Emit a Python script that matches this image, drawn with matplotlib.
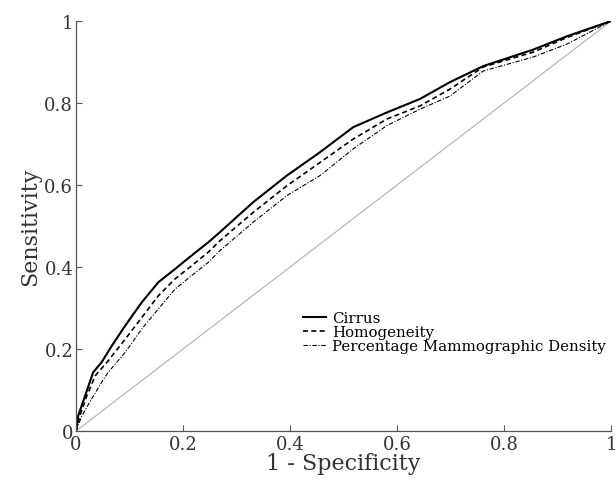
import matplotlib
matplotlib.use("Agg")
import matplotlib.pyplot as plt

# Cirrus (solid)
cirrus_x = [0.0, 0.004, 0.017, 0.032, 0.048, 0.067, 0.092, 0.123, 0.154, 0.185, 0.216,
            0.247, 0.269, 0.331, 0.394, 0.456, 0.518, 0.581, 0.643, 0.699, 0.761,
            0.854, 0.918, 1.0]
cirrus_y = [0.0, 0.037, 0.086, 0.143, 0.168, 0.208, 0.257, 0.314, 0.363, 0.395, 0.428,
            0.46, 0.485, 0.558, 0.623, 0.68, 0.741, 0.777, 0.81, 0.851, 0.89,
            0.93, 0.963, 1.0]

# Homogeneity (dashed)
homog_x = [0.0, 0.008, 0.02, 0.036, 0.06, 0.092, 0.123, 0.154, 0.185, 0.216, 0.247,
           0.269, 0.331, 0.394, 0.456, 0.518, 0.581, 0.643, 0.699, 0.761, 0.854,
           0.918, 1.0]
homog_y = [0.0, 0.04, 0.085, 0.135, 0.171, 0.224, 0.277, 0.33, 0.371, 0.403, 0.436,
           0.464, 0.533, 0.598, 0.655, 0.712, 0.761, 0.793, 0.834, 0.888, 0.924,
           0.96, 1.0]

# Percentage Mammographic Density (dash-dot)
pmd_x = [0.0, 0.011, 0.029, 0.048, 0.06, 0.092, 0.123, 0.154, 0.185, 0.216, 0.247,
         0.269, 0.331, 0.394, 0.456, 0.518, 0.581, 0.643, 0.699, 0.761, 0.854,
         0.918, 1.0]
pmd_y = [0.0, 0.037, 0.078, 0.119, 0.143, 0.192, 0.249, 0.298, 0.346, 0.379, 0.411,
         0.44, 0.509, 0.574, 0.623, 0.688, 0.745, 0.785, 0.817, 0.878, 0.912,
         0.944, 1.0]

labels = ["Cirrus", "Homogeneity", "Percentage Mammographic Density"]
ticks = [0, 0.2, 0.4, 0.6, 0.8, 1]
tick_labels = ["0", "0.2", "0.4", "0.6", "0.8", "1"]

plt.rcParams['font.family'] = ['DejaVu Serif']

fig = plt.figure(figsize=(6.16, 4.85), dpi=100)
ax = fig.add_axes([0.1234, 0.1093, 0.8686, 0.8453])

ax.plot([0, 1], [0, 1], color="#b0b0b0", lw=0.8)
ax.plot(cirrus_x, cirrus_y, color="black", lw=1.5, ls="-", label=labels[0])
ax.plot(homog_x, homog_y, color="black", lw=1.2, ls=(0, (3, 2)), label=labels[1])
ax.plot(pmd_x, pmd_y, color="black", lw=0.8, ls=(0, (4, 1.5, 1, 1.5)), label=labels[2])

ax.set_xlim(0, 1)
ax.set_ylim(0, 1)
ax.set_xticks(ticks)
ax.set_xticklabels(tick_labels)
ax.set_yticks(ticks)
ax.set_yticklabels(tick_labels)
ax.tick_params(direction="in", length=4, width=0.8, colors="#555555",
               labelcolor="#333333", labelsize=13)
ax.tick_params(axis="x", pad=3)
ax.tick_params(axis="y", pad=2)
for s in ["top", "right"]:
    ax.spines[s].set_visible(False)
for s in ["left", "bottom"]:
    ax.spines[s].set_color("#555555")
    ax.spines[s].set_linewidth(0.9)

ax.set_xlabel("1 - Specificity", fontsize=16, color="#333333", labelpad=-1)
ax.set_ylabel("Sensitivity", fontsize=16, color="#333333", labelpad=2)

leg = ax.legend(loc="upper left", bbox_to_anchor=(0.425, 0.292), frameon=False,
                fontsize=10.8, handlelength=1.5, handletextpad=0.4,
                labelspacing=0.0, borderaxespad=0, borderpad=0)

fig.savefig("out.png", dpi=100)
